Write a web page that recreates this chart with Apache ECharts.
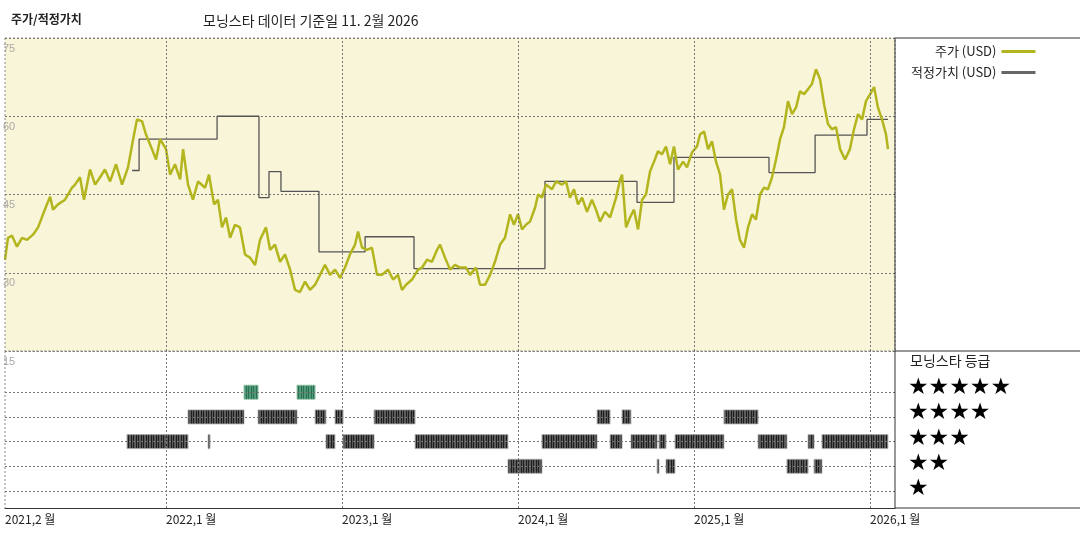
<!DOCTYPE html>
<html><head><meta charset="utf-8">
<script src="https://cdn.jsdelivr.net/npm/echarts@6/dist/echarts.min.js"></script>
<style>html,body{margin:0;padding:0;background:#fff}#c{width:1080px;height:540px}</style>
</head><body><div id="c"></div>
<script>
// decimal-year x positions and price (USD)
const priceYears = [2021.085,2021.102,2021.125,2021.153,2021.182,2021.210,2021.244,2021.273,2021.301,2021.341,2021.358,2021.386,2021.426,2021.466,2021.483,2021.511,2021.534,2021.568,2021.597,2021.625,2021.653,2021.682,2021.716,2021.750,2021.784,2021.813,2021.835,2021.864,2021.886,2021.920,2021.943,2021.966,2022.000,2022.023,2022.051,2022.080,2022.097,2022.125,2022.153,2022.182,2022.222,2022.244,2022.273,2022.295,2022.318,2022.341,2022.364,2022.392,2022.420,2022.449,2022.477,2022.506,2022.534,2022.568,2022.591,2022.619,2022.648,2022.676,2022.705,2022.733,2022.761,2022.790,2022.818,2022.847,2022.875,2022.903,2022.932,2022.960,2022.989,2023.017,2023.045,2023.074,2023.091,2023.114,2023.142,2023.170,2023.199,2023.227,2023.261,2023.290,2023.318,2023.341,2023.364,2023.398,2023.432,2023.455,2023.483,2023.511,2023.540,2023.557,2023.585,2023.614,2023.642,2023.670,2023.705,2023.727,2023.761,2023.784,2023.813,2023.841,2023.869,2023.898,2023.926,2023.955,2023.977,2024.000,2024.023,2024.045,2024.068,2024.097,2024.114,2024.136,2024.159,2024.193,2024.216,2024.250,2024.273,2024.295,2024.318,2024.341,2024.364,2024.392,2024.420,2024.443,2024.466,2024.494,2024.523,2024.557,2024.580,2024.591,2024.614,2024.636,2024.659,2024.682,2024.705,2024.727,2024.750,2024.773,2024.795,2024.818,2024.841,2024.864,2024.886,2024.909,2024.938,2024.960,2024.989,2025.017,2025.034,2025.057,2025.080,2025.102,2025.125,2025.148,2025.170,2025.193,2025.216,2025.239,2025.261,2025.284,2025.307,2025.330,2025.352,2025.375,2025.398,2025.420,2025.443,2025.466,2025.489,2025.511,2025.534,2025.557,2025.580,2025.602,2025.625,2025.648,2025.670,2025.693,2025.716,2025.739,2025.761,2025.784,2025.807,2025.830,2025.858,2025.886,2025.909,2025.932,2025.955,2025.977,2026.000,2026.023,2026.045,2026.068,2026.091,2026.102];
const priceValues = [32.5,36.7,37.1,35.0,36.7,36.3,37.3,38.7,41.2,44.6,42.1,43.1,44.0,46.3,46.9,48.3,44.0,49.8,46.9,48.3,49.8,47.5,50.8,46.9,50.2,55.6,59.4,59.0,56.5,53.7,51.7,55.6,53.7,48.8,50.8,47.9,53.7,46.9,44.0,47.5,46.3,48.8,43.1,44.0,38.7,40.6,36.7,39.2,38.7,33.5,32.9,31.5,36.3,38.7,34.4,35.4,32.1,33.5,30.6,26.7,26.3,28.3,26.7,27.7,29.6,31.5,29.6,30.6,29.0,31.0,33.5,35.4,37.9,34.8,34.4,34.8,29.6,29.6,30.6,28.7,29.6,26.7,27.7,28.7,30.6,31.0,32.5,32.1,34.4,35.4,32.9,30.6,31.5,31.0,31.0,29.6,31.0,27.7,27.7,29.6,32.1,35.4,36.7,41.2,39.2,41.2,38.3,39.2,39.8,42.5,45.0,44.4,46.9,46.0,47.5,46.9,47.5,44.4,46.0,43.1,44.4,41.7,44.0,42.1,39.8,41.7,40.6,44.4,47.9,48.8,38.7,40.6,42.1,38.3,44.0,45.0,49.4,51.3,53.3,52.7,54.2,50.8,54.2,49.8,51.3,50.2,53.1,54.2,56.5,57.1,53.7,55.2,51.3,48.8,42.1,45.0,46.0,40.2,36.3,34.8,38.7,41.2,40.2,45.0,46.3,46.0,48.3,51.7,55.6,57.9,62.9,60.4,61.7,64.8,64.2,65.2,66.2,69.0,67.1,62.3,58.5,57.5,57.9,53.7,51.7,53.7,57.5,60.4,59.4,62.9,64.2,65.6,61.7,59.4,56.5,53.7];
// fair value step changes
const fairYears = [2021.807,2021.847,2022.290,2022.528,2022.585,2022.653,2022.869,2023.131,2023.409,2024.153,2024.676,2024.886,2025.426,2025.688,2025.983,2026.102];
const fairValues = [49.6,55.6,60.0,44.4,49.4,45.6,34.0,36.9,30.8,47.5,43.5,52.1,49.2,56.4,59.4,59.4];
// Morningstar rating periods
const ratingStart = [2021.778,2022.239,2022.125,2022.443,2022.523,2022.744,2022.847,2022.909,2022.960,2023.006,2023.182,2023.415,2023.943,2024.136,2024.449,2024.523,2024.591,2024.642,2024.790,2024.801,2024.841,2024.892,2025.170,2025.364,2025.528,2025.648,2025.682,2025.727];
const ratingEnd   = [2022.125,2022.250,2022.443,2022.523,2022.744,2022.847,2022.909,2022.960,2023.006,2023.182,2023.415,2023.943,2024.136,2024.449,2024.523,2024.591,2024.642,2024.790,2024.801,2024.841,2024.892,2025.170,2025.364,2025.528,2025.648,2025.682,2025.727,2026.102];
const ratingStars = [3,3,4,5,4,5,4,3,4,3,4,3,2,3,4,3,4,3,2,3,2,3,4,3,2,3,2,3];
const xTickValues = [2021.085,2022,2023,2024,2025,2026];
const xTickLabels = ['2021,2 월','2022,1 월','2023,1 월','2024,1 월','2025,1 월','2026,1 월'];
const yearLines = [2022,2023,2024,2025,2026];
const starLevels = [1,2,3,4,5];

const F = '"Noto Sans CJK KR", sans-serif';
const XMIN = 2021.085, XMAX = 2026.142;
function pattern(base, line){
  const c = document.createElement('canvas'); c.width = 5; c.height = 20;
  const g = c.getContext('2d'); g.fillStyle = base; g.fillRect(0,0,5,20);
  g.fillStyle = line; g.fillRect(1,0,1,20); g.fillRect(3,0,1,20);
  return {image:c, repeat:'repeat'};
}
const darkPat = pattern('#5a5a5a', '#1e1e1e'), greenPat = pattern('#4f9a78', '#2d6e50');
const chart = echarts.init(document.getElementById('c'));
const dash = {color:'#777', type:[2,2], width:1};
const ratingData = ratingStars.map((s,i)=>[ratingStart[i], ratingEnd[i], s]);
chart.setOption({
  animation:false,
  title:[
    {text:'주가/적정가치', left:6, top:8, textStyle:{fontFamily:F, fontSize:12, fontWeight:'bold', color:'#222'}},
    {text:'모닝스타 데이터 기준일 11. 2월 2026', left:198, top:9, textStyle:{fontFamily:F, fontSize:14, fontWeight:'normal', color:'#222'}}
  ],
  legend:{left:906, top:40, orient:'vertical', align:'right', itemGap:8, itemWidth:34, itemHeight:3,
    textStyle:{fontFamily:F, fontSize:13, color:'#222', width:126},
    data:[{name:'주가 (USD)', icon:'rect', itemStyle:{color:'#b3b51e'}},
          {name:'적정가치 (USD)', icon:'rect', itemStyle:{color:'#666'}}]},
  grid:[{left:5, right:185, top:38, height:313, backgroundColor:'#f9f5d8', show:true, borderWidth:0},
        {left:5, right:185, top:351, bottom:32, show:false}],
  xAxis:[
    {type:'value', gridIndex:0, min:XMIN, max:XMAX, axisLine:{show:false}, axisTick:{show:false}, axisLabel:{show:false}, splitLine:{show:false}},
    {type:'value', gridIndex:1, min:XMIN, max:XMAX, axisLine:{show:true, lineStyle:{color:'#333', width:1}}, axisTick:{show:false}, splitLine:{show:false},
     axisLabel:{customValues:xTickValues, formatter:v=>{const i=xTickValues.findIndex(t=>Math.abs(t-v)<1e-6);return i>=0?xTickLabels[i]:'';}, align:'left', margin:5, fontFamily:F, fontSize:12, color:'#222', showMinLabel:true, showMaxLabel:true}}
  ],
  yAxis:[
    {type:'value', gridIndex:0, min:15, max:75, interval:15, axisLine:{show:false}, axisTick:{show:false},
     axisLabel:{inside:true, verticalAlign:'top', margin:-2, padding:[5,0,0,0], color:'#aaa', fontFamily:'Liberation Sans', fontSize:11, showMinLabel:true, showMaxLabel:true},
     splitLine:{show:true, lineStyle:dash}},
    {type:'value', gridIndex:1, min:0.31, max:6.67, show:false, splitLine:{show:false}}
  ],
  series:[
    {name:'주가 (USD)', type:'line', xAxisIndex:0, yAxisIndex:0, data:priceYears.map((x,i)=>[x,priceValues[i]]), showSymbol:false, z:3,
     lineStyle:{color:'#b3b51e', width:2.5}, itemStyle:{color:'#b3b51e'},
     markLine:{silent:true, symbol:'none', label:{show:false}, lineStyle:dash, data:yearLines.map(v=>({xAxis:v}))}},
    {name:'적정가치 (USD)', type:'line', step:'end', xAxisIndex:0, yAxisIndex:0, data:fairYears.map((x,i)=>[x,fairValues[i]]), showSymbol:false, z:2,
     lineStyle:{color:'#555', width:1.3}, itemStyle:{color:'#666'}},
    {name:'rating', type:'custom', xAxisIndex:1, yAxisIndex:1, data:ratingData, z:3,
     renderItem:(p,api)=>{const a=api.coord([api.value(0),api.value(2)]), b=api.coord([api.value(1),api.value(2)]);
       const s=api.value(2);
       return {type:'rect', shape:{x:a[0], y:a[1]-7, width:Math.max(1.5,b[0]-a[0]), height:14},
         style:{fill: s===5?greenPat:darkPat, stroke: s===5?'#8fbfa8':'#aaa', lineWidth:0.8}};},
     markLine:{silent:true, symbol:'none', label:{show:false}, lineStyle:dash,
       data:starLevels.map(v=>({yAxis:v})).concat(yearLines.map(v=>({xAxis:v})))}}
  ],
  graphic:[
    {type:'rect', shape:{x:5, y:38, width:890, height:313}, style:{fill:'none', stroke:'#888', lineDash:[2,2], lineWidth:1}, z:10},
    {type:'line', shape:{x1:5, y1:351, x2:5, y2:508}, style:{stroke:'#888', lineDash:[2,2]}, z:10},
    {type:'line', shape:{x1:895, y1:38, x2:895, y2:508}, style:{stroke:'#333', lineWidth:1}, z:10},
    {type:'line', shape:{x1:895, y1:38, x2:1080, y2:38}, style:{stroke:'#333', lineWidth:1}, z:10},
    {type:'line', shape:{x1:895, y1:351, x2:1080, y2:351}, style:{stroke:'#333', lineWidth:1}, z:10},
    {type:'line', shape:{x1:895, y1:508, x2:1080, y2:508}, style:{stroke:'#333', lineWidth:1}, z:10},
    {type:'text', left:910, top:354, style:{text:'모닝스타 등급', fontFamily:F, fontSize:14, fill:'#222'}},
    {type:'text', left:908, top:377, style:{text:'★★★★★', fontFamily:'DejaVu Sans', fontSize:23, fill:'#000'}},
    {type:'text', left:908, top:402, style:{text:'★★★★', fontFamily:'DejaVu Sans', fontSize:23, fill:'#000'}},
    {type:'text', left:908, top:428, style:{text:'★★★', fontFamily:'DejaVu Sans', fontSize:23, fill:'#000'}},
    {type:'text', left:908, top:453, style:{text:'★★', fontFamily:'DejaVu Sans', fontSize:23, fill:'#000'}},
    {type:'text', left:908, top:478, style:{text:'★', fontFamily:'DejaVu Sans', fontSize:23, fill:'#000'}}
  ]
});
</script></body></html>
